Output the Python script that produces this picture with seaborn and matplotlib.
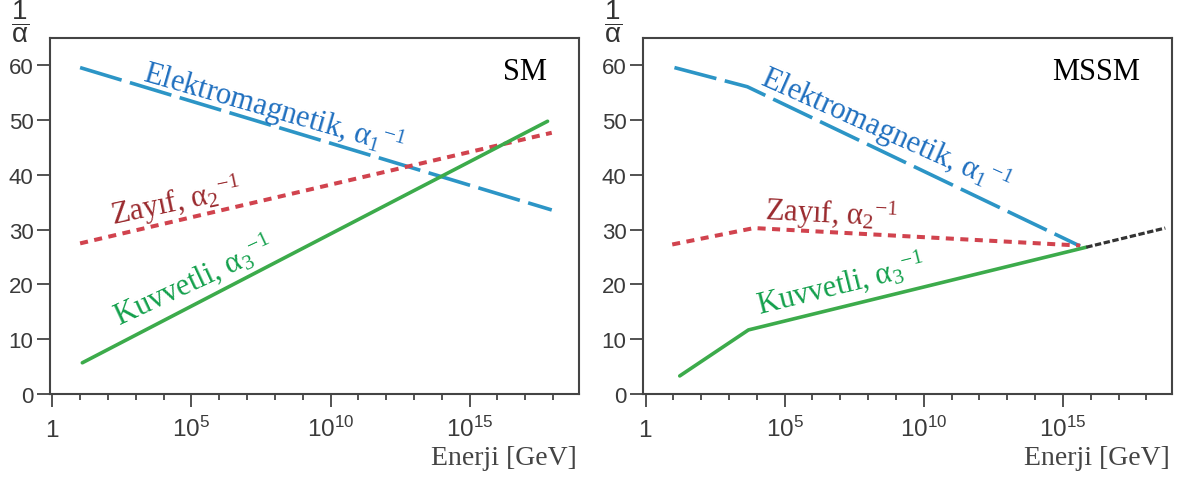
import numpy as np
import pandas as pd
import matplotlib
matplotlib.use("Agg")
import matplotlib.pyplot as plt
from matplotlib.ticker import FixedLocator, FixedFormatter, NullFormatter
import seaborn as sns

# ======= Data =======
# x values are log10(E / GeV), y values are 1/alpha
sm_em_logE = [1.0, 17.95]
sm_em_inv = [59.6, 33.6]
sm_weak_logE = [1.0, 17.95]
sm_weak_inv = [27.5, 47.7]
sm_strong_logE = [1.08, 17.8]
sm_strong_inv = [5.7, 49.8]

mssm_em_logE = [1.04, 3.66, 15.62]
mssm_em_inv = [59.6, 56.1, 27.0]
mssm_weak_logE = [0.96, 3.9, 15.62]
mssm_weak_inv = [27.3, 30.3, 27.1]
mssm_strong_logE = [1.23, 3.7, 15.84]
mssm_strong_inv = [3.3, 11.7, 26.8]
mssm_gut_logE = [15.84, 18.68]
mssm_gut_inv = [26.8, 30.3]

x_major_exp = [0, 5, 10, 15]
x_major_labels = [r"$\mathsf{1}$", r"$\mathsf{10^{5}}$", r"$\mathsf{10^{10}}$", r"$\mathsf{10^{15}}$"]
y_ticks = [0, 10, 20, 30, 40, 50, 60]

em_label = r"Elektromagnetik, α$_1{}^{-1}$"
weak_label = r"Zayıf, α$_2{}^{-1}$"
strong_label = r"Kuvvetli, α$_3{}^{-1}$"

# ======= Style =======
sns.set_style("ticks")
plt.rcParams.update({
    "font.family": ["Liberation Sans", "DejaVu Sans"],
    "mathtext.fontset": "custom",
    "mathtext.rm": "Liberation Serif",
    "mathtext.it": "Liberation Serif:italic",
    "mathtext.bf": "Liberation Serif:bold",
    "mathtext.sf": "Liberation Sans",
    "axes.edgecolor": "#444444",
    "axes.linewidth": 1.5,
    "xtick.color": "#444444",
    "ytick.color": "#444444",
})

EM_LINE, EM_TEXT = "#2c95c6", "#1f6fbf"
WK_LINE, WK_TEXT = "#d1434e", "#9a2a2e"
ST_LINE, ST_TEXT = "#3cab4b", "#13a04c"
GUT_LINE = "#333333"
SERIF = ["Liberation Serif", "DejaVu Serif"]

fig = plt.figure(figsize=(11.86, 4.81), dpi=100)
ax_sm = fig.add_axes([0.0422, 0.1788, 0.4460, 0.7401])
ax_mssm = fig.add_axes([0.5424, 0.1788, 0.4460, 0.7401])


def draw(ax, logE, inv, color, ls, lw=2.6):
    d = pd.DataFrame({"E": np.power(10.0, logE), "inv": inv})
    sns.lineplot(data=d, x="E", y="inv", ax=ax, color=color, linestyle=ls,
                 linewidth=lw, sort=False, errorbar=None, legend=False)


def setup(ax, title):
    ax.set_xscale("log")
    ax.set_xlim(10 ** -0.08, 10 ** 18.93)
    ax.set_ylim(0, 65)
    ax.xaxis.set_major_locator(FixedLocator([10.0 ** e for e in x_major_exp]))
    ax.xaxis.set_major_formatter(FixedFormatter(x_major_labels))
    ax.xaxis.set_minor_locator(FixedLocator([10.0 ** e for e in range(0, 19)]))
    ax.xaxis.set_minor_formatter(NullFormatter())
    ax.set_yticks(y_ticks)
    # baseline-anchored x labels so "1" and "10^n" share one baseline
    ax.tick_params(axis="x", which="major", length=9, width=1.3, pad=21,
                   labelsize=17.5, labelcolor="#3a3a3a")
    ax.tick_params(axis="x", which="minor", length=4.5, width=1.3)
    ax.tick_params(axis="y", length=9.5, width=1.3, pad=2.5,
                   labelsize=16, labelcolor="#3a3a3a")
    for lbl in ax.get_xticklabels():
        lbl.set_verticalalignment("baseline")
    ax.set_xlabel("")
    ax.set_ylabel("")
    for s in ax.spines.values():
        s.set_visible(True)
    ax.text(-0.057, 1.05, r"$\dfrac{\mathsf{1}}{\mathsf{\alpha}}$", transform=ax.transAxes,
            ha="center", va="center", fontsize=20, color="#333333")
    ax.text(0.94, 0.885, title, transform=ax.transAxes, ha="right", va="baseline",
            fontsize=22, color="black", family=SERIF)
    ax.text(0.995, -0.197, "Enerji [GeV]", transform=ax.transAxes, ha="right",
            va="baseline", fontsize=20, color="#444444", family=SERIF)


def label(ax, lx, y, txt, rot, color):
    ax.text(10 ** lx, y, txt, rotation=rot, rotation_mode="anchor", ha="left",
            va="baseline", fontsize=22, color=color, family=SERIF)


# ======= SM panel =======
draw(ax_sm, sm_em_logE, sm_em_inv, EM_LINE, (0, (12, 2.4)))
draw(ax_sm, sm_weak_logE, sm_weak_inv, WK_LINE, (0, (2.0, 1.6)), lw=2.9)
draw(ax_sm, sm_strong_logE, sm_strong_inv, ST_LINE, "-")
setup(ax_sm, "SM")
label(ax_sm, 3.21, 57.3, em_label, -16, EM_TEXT)
label(ax_sm, 2.19, 31.0, weak_label, 12, WK_TEXT)
label(ax_sm, 2.4, 12.7, strong_label, 25, ST_TEXT)

# ======= MSSM panel =======
draw(ax_mssm, mssm_em_logE, mssm_em_inv, EM_LINE, (0, (12, 2.4)))
draw(ax_mssm, mssm_weak_logE, mssm_weak_inv, WK_LINE, (0, (2.0, 1.6)), lw=2.9)
draw(ax_mssm, mssm_strong_logE, mssm_strong_inv, ST_LINE, "-")
draw(ax_mssm, mssm_gut_logE, mssm_gut_inv, GUT_LINE, (0, (2.0, 0.8)), lw=2.3)
setup(ax_mssm, "MSSM")
label(ax_mssm, 4.08, 56.7, em_label, -24, EM_TEXT)
label(ax_mssm, 4.26, 31.9, weak_label, -3, WK_TEXT)
label(ax_mssm, 4.08, 14.8, strong_label, 14, ST_TEXT)

fig.savefig("out.png", dpi=100)
